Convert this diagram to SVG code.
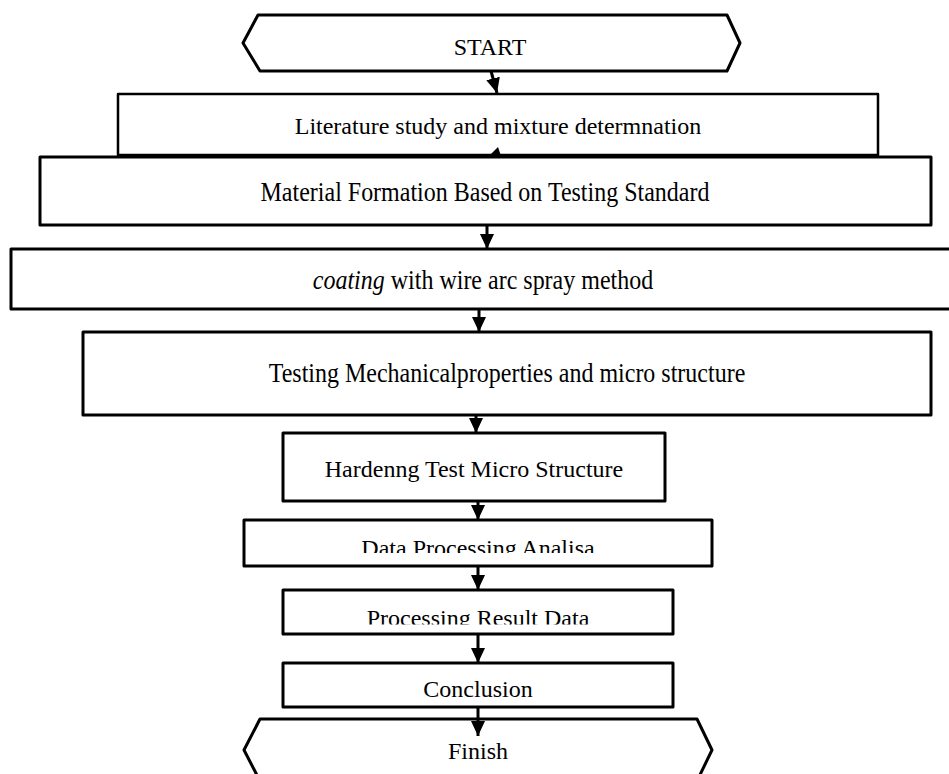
<svg xmlns="http://www.w3.org/2000/svg" width="949" height="774" viewBox="0 0 949 774">
<style>
.box{fill:#fff;stroke:#000;stroke-width:3;stroke-linejoin:round}
.thin{stroke-width:2.5}
.t{font-family:"Liberation Serif","Times New Roman",serif;font-size:24px;fill:#000;text-anchor:middle}
.c{stroke:#000;stroke-width:3;fill:none}
</style>
<defs>
<marker id="ah" markerUnits="userSpaceOnUse" viewBox="0 0 15 14" markerWidth="15" markerHeight="14" refX="15" refY="7" orient="auto">
<path d="M0,0 L15,7 L0,14 z" fill="#000"/>
</marker>
<clipPath id="clipData"><rect x="240" y="520" width="480" height="33"/></clipPath>
<clipPath id="clipProc"><rect x="280" y="590" width="400" height="34.5"/></clipPath>
</defs>
<g id="start">
<polygon class="box" points="258,15 727,15 740,43 727,71 260,71 243,43"/>
<text class="t" x="490" y="55">START</text>
</g>
<g id="literature">
<rect class="box thin" x="118" y="94" width="760" height="61"/>
<text class="t" x="498" y="134">Literature study and mixture determnation</text>
</g>
<g id="material">
<rect class="box" x="40" y="157" width="891" height="68"/>
<text class="t" transform="translate(485,201) scale(1,1.12)" x="0" y="0">Material Formation Based on Testing Standard</text>
</g>
<g id="coating">
<rect class="box" x="11" y="249" width="960" height="60"/>
<text class="t" transform="translate(483,289) scale(1,1.12)" x="0" y="0"><tspan font-style="italic">coating</tspan> with wire arc spray method</text>
</g>
<g id="testing">
<rect class="box" x="83" y="332" width="848" height="83"/>
<text class="t" transform="translate(507,382) scale(1,1.12)" x="0" y="0">Testing Mechanicalproperties and micro structure</text>
</g>
<g id="hardening">
<rect class="box" x="283" y="433" width="382" height="68"/>
<text class="t" x="474" y="477">Hardenng Test Micro Structure</text>
</g>
<g id="data">
<rect class="box" x="244" y="520" width="468" height="46"/>
<text class="t" x="478" y="556" clip-path="url(#clipData)">Data Processing Analisa</text>
</g>
<g id="processing">
<rect class="box" x="283" y="590" width="390" height="44"/>
<text class="t" x="478" y="626" clip-path="url(#clipProc)">Processing Result Data</text>
</g>
<g id="conclusion">
<rect class="box" x="283" y="663" width="390" height="44"/>
<text class="t" x="478" y="697">Conclusion</text>
</g>
<g id="finish">
<polygon class="box" points="260,719 697,719 712,750 697,781 260,781 244,750"/>
<text class="t" x="478" y="759">Finish</text>
</g>
<g id="connectors">
<line class="c" x1="491" y1="71" x2="497" y2="93" marker-end="url(#ah)"/>
<polygon points="489,156 498,147 501,156" fill="#000"/>
<line class="c" x1="487" y1="226" x2="487" y2="249" marker-end="url(#ah)"/>
<line class="c" x1="479" y1="309" x2="479" y2="332" marker-end="url(#ah)"/>
<line class="c" x1="476" y1="415" x2="476" y2="433" marker-end="url(#ah)"/>
<line class="c" x1="478" y1="501" x2="478" y2="520" marker-end="url(#ah)"/>
<line class="c" x1="478" y1="566" x2="478" y2="590" marker-end="url(#ah)"/>
<line class="c" x1="478" y1="634" x2="478" y2="663" marker-end="url(#ah)"/>
<line class="c" x1="478" y1="707" x2="478" y2="736" marker-end="url(#ah)"/>
</g>
</svg>
